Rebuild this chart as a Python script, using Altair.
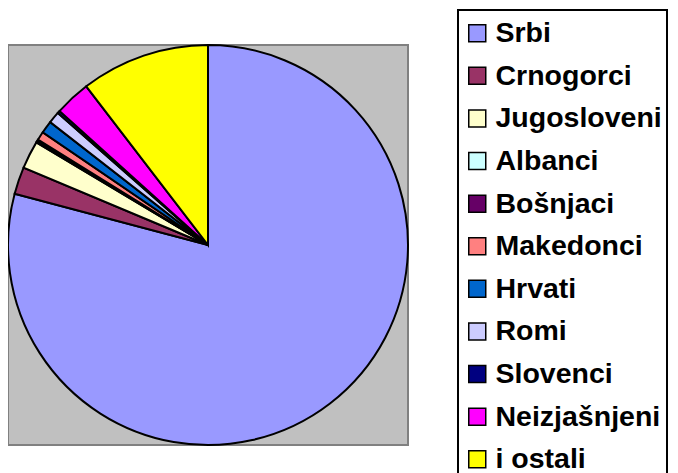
import altair as alt
import pandas as pd

groups = ["Srbi", "Crnogorci", "Jugosloveni", "Albanci", "Bošnjaci", "Makedonci",
          "Hrvati", "Romi", "Slovenci", "Neizjašnjeni", "i ostali"]
shares = [79.0, 2.2, 2.25, 0.1, 0.15, 0.7, 1.0, 0.95, 0.2, 2.9, 10.4]
colors = ["#9999FF", "#993366", "#FFFFCC", "#CCFFFF", "#660066", "#FF8080",
          "#0066CC", "#CCCCFF", "#000080", "#FF00FF", "#FFFF00"]

df = pd.DataFrame({"grupa": groups, "udeo": shares, "red": list(range(len(groups)))})

background = alt.Chart(pd.DataFrame({"k": [0]})).mark_rect(
    fill="#C0C0C0", stroke="#808080", strokeWidth=2
).encode(
    x=alt.value(0), x2=alt.value(400), y=alt.value(0), y2=alt.value(400)
)

pie = alt.Chart(df).mark_arc(outerRadius=200, stroke="black", strokeWidth=2).encode(
    theta=alt.Theta("udeo:Q", stack=True),
    order=alt.Order("red:Q"),
    color=alt.Color(
        "grupa:N",
        sort=groups,
        scale=alt.Scale(domain=groups, range=colors),
        legend=alt.Legend(
            title=" ", titleFontSize=1, titlePadding=3,
            orient="none", legendX=450, legendY=-35,
            symbolType="square", symbolSize=289, symbolStrokeColor="black",
            symbolStrokeWidth=1.5, symbolOpacity=1,
            labelFont="Liberation Sans", labelFontSize=28.5, labelFontWeight="bold",
            labelColor="black", labelOffset=4, labelLimit=400,
            labelExpr="datum.label + '    '",
            rowPadding=13.6, padding=5, strokeColor="black", fillColor="white",
        ),
    ),
)

chart = alt.layer(background, pie).properties(
    width=400, height=400,
    autosize=alt.AutoSizeParams(type="none"),
    padding={"left": 0, "top": 37, "right": 262, "bottom": 40},
).configure_view(
    stroke=None
).configure_legend(strokeWidth=2)

chart.save("out.html", embed_options={"renderer": "svg", "actions": False})
